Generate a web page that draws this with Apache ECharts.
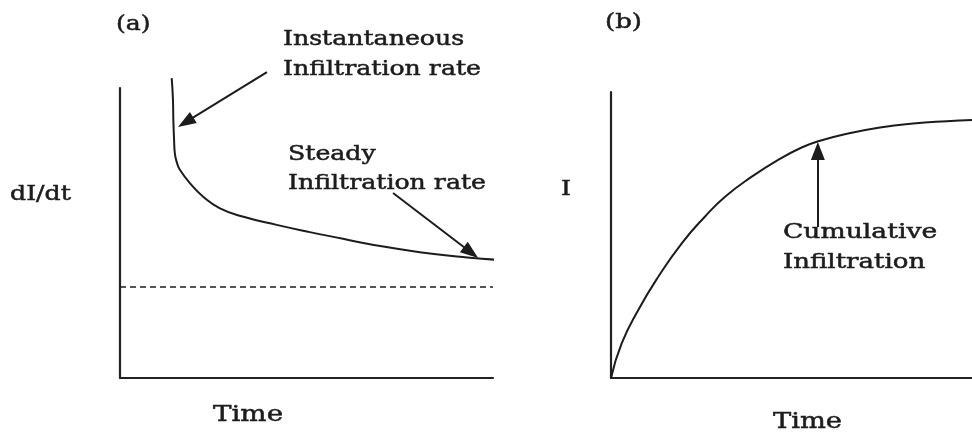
<!DOCTYPE html>
<html>
<head>
<meta charset="utf-8">
<script src="https://cdn.jsdelivr.net/npm/echarts@6/dist/echarts.min.js"></script>
<style>
html,body{margin:0;padding:0;background:#fff;}
#c{width:972px;height:435px;}
</style>
</head>
<body>
<div id="c"></div>
<script>
// Panel (a): instantaneous infiltration rate vs time
const rateTime  = [13.86, 14.2, 14.3, 14.5, 14.7, 15.3, 16.1, 18.8, 22.3, 26.8, 33.1, 42.0, 50.9, 59.8, 67.0, 80.4, 93.8, 100.5];
const rateValue = [103.4, 95.9, 89.0, 82.1, 77.5, 74.1, 71.7, 67.1, 62.5, 58.5, 55.6, 52.8, 50.3, 48.0, 46.1, 43.4, 41.5, 40.8];
// steady (dashed) level
const steadyTime  = [0, 100];
const steadyValue = [31.4, 31.4];
// Panel (b): cumulative infiltration vs time
const cumTime  = [0, 2.96, 7.56, 13.1, 19.6, 26.0, 31.6, 39.0, 46.3, 52.8, 57.4, 65.3, 74.5, 83.7, 93.0, 100];
const cumValue = [0, 12.1, 23.8, 35.4, 47.1, 56.4, 63.4, 70.4, 76.3, 80.6, 82.8, 85.4, 87.6, 89.0, 89.8, 90.2];
// annotation arrows [fromX, fromY, toX, toY] in data units
const arrowInst   = [39.4, 105.5, 17.6, 88.2];
const arrowSteady = [73.2, 63.8, 94.1, 43.3];
const arrowCum    = [57.3, 52.8, 57.3, 79.4];
// texts
const panelLabels = ['(a)', '(b)'];
const xTitles = ['Time', 'Time'];
const yTitles = ['dI/dt', 'I'];

const INK = '#1c1c1c';
const FONT = '"DejaVu Serif", "Liberation Serif", serif';
const zip = (a, b) => a.map((v, i) => [v, b[i]]);

function axisCommon(gi, max, visible) {
  return {
    gridIndex: gi, type: 'value', min: 0, max: max,
    axisLine: {show: visible, onZero: false, lineStyle: {color: '#222', width: 2.2}},
    axisTick: {show: false}, axisLabel: {show: false}, splitLine: {show: false}
  };
}
function arrow(a) {
  return [{coord: [a[0], a[1]]}, {coord: [a[2], a[3]]}];
}
function txt(t, x, y, size, sx) {
  return {type: 'text', x: x, y: y, scaleX: sx, silent: true,
    style: {text: t, font: size + 'px ' + FONT, fill: INK, stroke: INK, lineWidth: 0.5,
      textAlign: 'left', textVerticalAlign: 'middle', align: 'left', verticalAlign: 'middle'}};
}

const chart = echarts.init(document.getElementById('c'), null, {renderer: 'canvas'});
chart.setOption({
  animation: false,
  backgroundColor: '#fff',
  grid: [
    {left: 120, top: 88, width: 373, height: 290},
    {left: 611, top: 92, width: 361, height: 286},
    // overlay for panel (a) marks, same scale, taller extent for annotations
    {left: 120, top: 59, width: 373, height: 319}
  ],
  xAxis: [axisCommon(0, 100, true), axisCommon(1, 100, true), axisCommon(2, 100, false)],
  yAxis: [axisCommon(0, 100, true), axisCommon(1, 100, true), axisCommon(2, 110, false)],
  series: [
    {
      type: 'line', xAxisIndex: 2, yAxisIndex: 2, data: zip(rateTime, rateValue),
      smooth: 0.5, showSymbol: false, clip: false, silent: true,
      lineStyle: {color: INK, width: 2},
      markLine: {
        silent: true, symbol: ['none', 'triangle'], symbolSize: [13, 18],
        label: {show: false}, lineStyle: {color: INK, width: 2, type: 'solid'},
        data: [arrow(arrowInst), arrow(arrowSteady)]
      }
    },
    {
      type: 'line', xAxisIndex: 2, yAxisIndex: 2, data: zip(steadyTime, steadyValue),
      showSymbol: false, clip: false, silent: true,
      lineStyle: {color: INK, width: 1.6, type: [6, 4]}
    },
    {
      type: 'line', xAxisIndex: 1, yAxisIndex: 1, data: zip(cumTime, cumValue),
      smooth: 0.5, showSymbol: false, clip: false, silent: true,
      lineStyle: {color: INK, width: 2},
      markLine: {
        silent: true, symbol: ['none', 'triangle'], symbolSize: [14, 18],
        label: {show: false}, lineStyle: {color: INK, width: 2, type: 'solid'},
        data: [arrow(arrowCum)]
      }
    }
  ],
  graphic: [
    txt(panelLabels[0], 116, 25, 20, 1.26),
    txt(panelLabels[1], 605, 23, 20, 1.3),
    txt('Instantaneous', 283, 40, 20, 1.26),
    txt('Infiltration rate', 283, 70, 20, 1.26),
    txt('Steady', 288, 155, 20, 1.26),
    txt('Infiltration rate', 288, 184, 20, 1.26),
    txt(yTitles[0], 10, 195, 20, 1.26),
    txt(xTitles[0], 213, 415, 22, 1.26),
    txt(yTitles[1], 561, 190, 20, 1.26),
    txt('Cumulative', 783, 233, 20, 1.33),
    txt('Infiltration', 783, 263, 20, 1.3),
    txt(xTitles[1], 773, 422, 22, 1.24)
  ]
});
</script>
</body>
</html>
